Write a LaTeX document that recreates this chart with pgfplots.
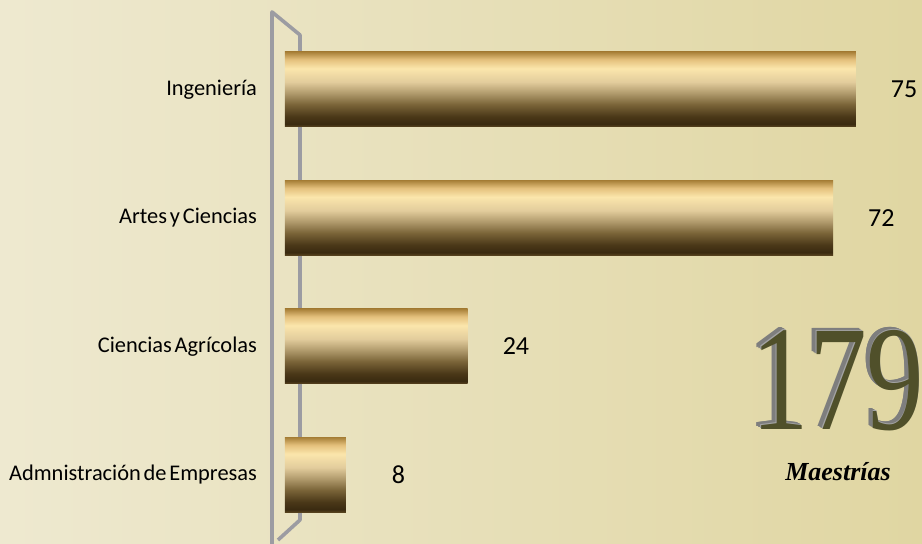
\documentclass[border=0pt]{standalone}
\usepackage{pgfplots}
\pgfplotsset{compat=1.18}
\usepackage{fontspec}
\setmainfont{Carlito}
\newfontfamily\labfont{Carlito}[WordSpace=0.55]
\newfontfamily\numfont{Liberation Serif}

\definecolor{bgL}{HTML}{EEE9D0}
\definecolor{bgR}{HTML}{E0D6A2}
\definecolor{wall}{HTML}{9C9CA2}
\definecolor{g0}{HTML}{5A4520}
\definecolor{g1}{HTML}{3A2A10}
\definecolor{g2}{HTML}{4A3818}
\definecolor{g3}{HTML}{7A6438}
\definecolor{g4}{HTML}{B09A6C}
\definecolor{g5}{HTML}{E2CC9C}
\definecolor{g6}{HTML}{FBE6AC}
\definecolor{g7}{HTML}{E4C07C}
\definecolor{g8}{HTML}{A88038}
\definecolor{olive}{HTML}{50502A}
\definecolor{bevel}{HTML}{7E7E7E}
\definecolor{bevellt}{HTML}{A4A4A4}

% cylinder look of the bars (bar occupies 25bp..75bp)
\pgfdeclareverticalshading{goldbar}{100bp}{color(0bp)=(g0); color(25bp)=(g0);
  color(27bp)=(g1); color(32bp)=(g2); color(40bp)=(g3); color(47.5bp)=(g4);
  color(55bp)=(g5); color(64bp)=(g6); color(70bp)=(g7); color(75bp)=(g8);
  color(100bp)=(g8)}

\newcommand{\bignum}{\scalebox{0.8}[1.04]{\numfont\fontsize{72}{72}\selectfont 179}}
% one layer of the extruded number
\newcommand{\layer}[3]{\rlap{\hspace*{#1}\raisebox{#2}{\textcolor{#3}{\bignum}}}}

\begin{document}
\begin{tikzpicture}
\shade[left color=bgL, right color=bgR] (0pt,0pt) rectangle (461pt,272pt);
\useasboundingbox (0pt,0pt) rectangle (461pt,272pt);

\begin{axis}[
  at={(142.5pt,0pt)}, anchor=south west,
  scale only axis,
  width=304.5pt, height=272pt,
  xmin=0, xmax=80, ymin=-0.537, ymax=3.696,
  xbar, bar width=37.5pt,
  axis lines=left, axis line style={draw=none},
  xtick=\empty,
  ytick={0,1,2,3},
  yticklabels={Admnistración de Empresas, Ciencias Agrícolas, Artes y Ciencias, Ingeniería},
  major tick length=0pt,
  yticklabel style={font=\labfont\fontsize{11.2}{13}\selectfont, xshift=-10.5pt},
  nodes near coords,
  nodes near coords style={font=\fontsize{13}{15}\selectfont, anchor=west, xshift=14pt, text=black},
  /pgf/number format/assume math mode=true,
  clip=false,
]
% back wall of the 3D frame
\draw[wall, line width=1.8pt, line join=round]
  (axis cs:-1.71,-0.537) -- (axis cs:-1.71,3.603) -- (axis cs:1.97,3.424)
  -- (axis cs:1.97,-0.350) -- (axis cs:-0.92,-0.506);

% one plot per bar so each bar gets its own cylinder shading
\addplot[draw=none, shading=goldbar, bar shift=0pt,
  nodes near coords style={xshift=5.5pt}] coordinates {(8,0)};
\addplot[draw=none, shading=goldbar, bar shift=0pt] coordinates {(24,1)};
\addplot[draw=none, shading=goldbar, bar shift=0pt] coordinates {(72,2)};
\addplot[draw=none, shading=goldbar, bar shift=0pt] coordinates {(75,3)};
\end{axis}

% extruded "179"
\node[inner sep=0pt] at (419pt,82.5pt) {%
  \layer{-2.4pt}{1.44pt}{bevel}\layer{-2.0pt}{1.2pt}{bevel}%
  \layer{-1.6pt}{0.96pt}{bevel}\layer{-1.2pt}{0.72pt}{bevel}%
  \layer{-0.8pt}{0.48pt}{bevel}\layer{-0.4pt}{0.3pt}{bevellt}%
  \textcolor{olive}{\bignum}};
\node at (419pt,36pt) {\numfont\bfseries\itshape\fontsize{13}{15}\selectfont Maestrías};
\end{tikzpicture}
\end{document}
